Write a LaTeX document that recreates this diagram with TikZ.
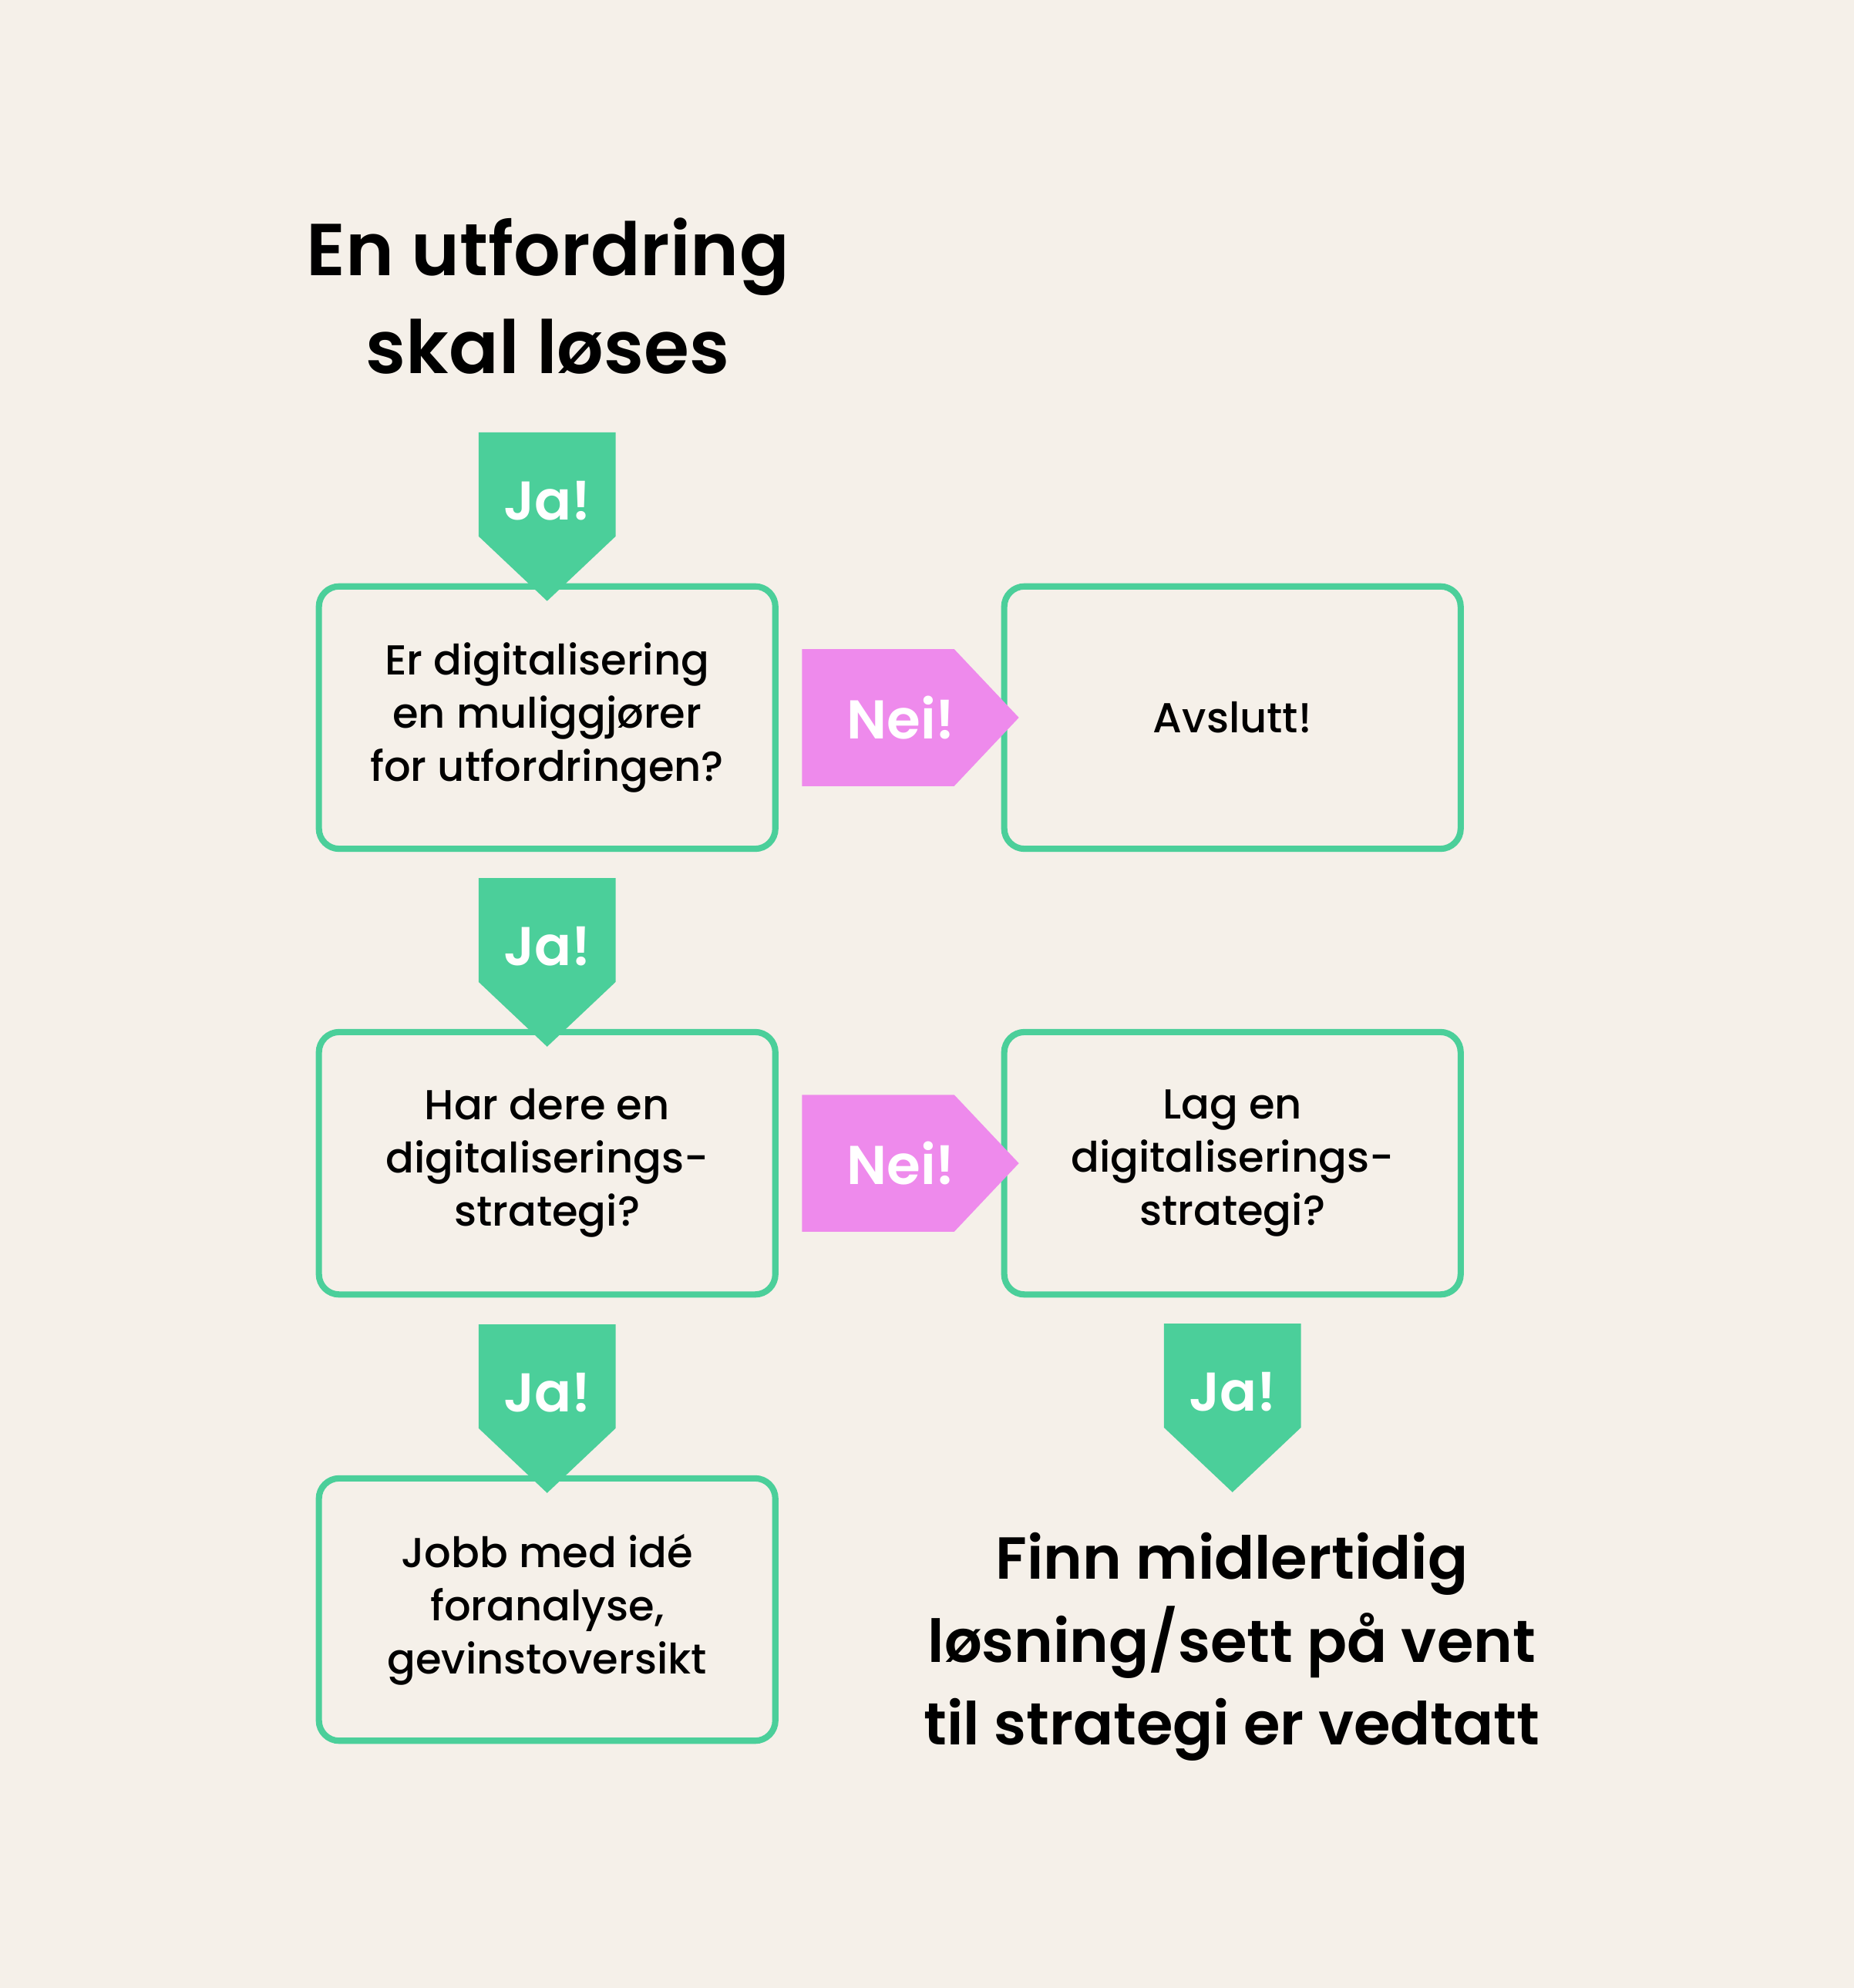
\documentclass[tikz,border=0pt]{standalone}
\usepackage{fontspec}
\setmainfont{Poppins}[UprightFont={* Medium},BoldFont={* SemiBold}]
\usepackage{tikz}
\usetikzlibrary{positioning,calc}
\definecolor{pbg}{HTML}{F5F0E9}
\definecolor{pgreen}{HTML}{4BCF9A}
\definecolor{ppink}{HTML}{EE8AEC}
\tikzset{
  % Outlined question box, no fill so the tags can sit on its border.
  qbox/.style   = {rectangle, rounded corners=0.32cm, draw=pgreen, line width=2.8pt,
                   minimum width=7.20cm, minimum height=4.14cm, align=center,
                   font=\fontsize{18.8}{23.9}\selectfont},
  head/.style   = {align=center, font=\bfseries\fontsize{33}{43.7}\selectfont},
  tail/.style   = {align=center, font=\bfseries\fontsize{26.6}{37.2}\selectfont},
  jafill/.style = {fill=pgreen},
  neifill/.style= {fill=ppink},
  tagtxt/.style = {text=white, inner sep=0pt, font=\bfseries\fontsize{24.5}{24.5}\selectfont},
}

\begin{document}
\begin{tikzpicture}
% --- canvas -----------------------------------------------------------
\fill[pbg] (0,0) rectangle (29.24,-31.36);

% --- title ------------------------------------------------------------
\node[head] (start) at (8.64,-4.67) {En utfordring\\skal løses};

% --- boxes, fixed positions -------------------------------------------
\node[qbox] (q1) at (8.63,-11.32)  {Er digitalisering\\en muliggjører\\for utfordringen?};
\node[qbox] (q2) at (19.44,-11.32) {Avslutt!};
\node[qbox] (q3) at (8.63,-18.35)  {Har dere en\\digitaliserings-\\strategi?};
\node[qbox] (q4) at (19.44,-18.35) {Lag en\\digitaliserings-\\strategi?};
\node[qbox] (q5) at (8.63,-25.39)  {Jobb med idé\\foranalyse,\\gevinstoversikt};

% --- closing text -----------------------------------------------------
\node[tail] (end) at (19.43,-25.98) {Finn midlertidig\\løsning/sett på vent\\til strategi er vedtatt};

% --- ja tags (pointing down) ------------------------------------------
\coordinate (j1) at ($(q1.north)+(0,-0.28)$);
\coordinate (j2) at ($(q3.north)+(0,-0.28)$);
\coordinate (j3) at ($(q5.north)+(0,-0.28)$);
\coordinate (j4) at ($(q4.south)+(0,-3.07)$);
\foreach \j in {j1,j2,j3,j4} {
  \fill[jafill] (\j) -- ++(-1.08,1.02) -- ++(0,1.64) -- ++(2.16,0) -- ++(0,-1.64) -- cycle;
  \node[tagtxt] (\j-lbl) at ($(\j)+(0,1.58)$) {Ja!};
}

% --- nei tags (pointing right) ----------------------------------------
\coordinate (n1) at ($(q2.west)+(0.28,0)$);
\coordinate (n2) at ($(q4.west)+(0.28,0)$);
\foreach \n in {n1,n2} {
  \fill[neifill] (\n) -- ++(-1.02,1.08) -- ++(-2.40,0) -- ++(0,-2.16) -- ++(2.40,0) -- cycle;
  \node[tagtxt] (\n-lbl) at ($(\n)+(-1.86,0)$) {Nei!};
}
\end{tikzpicture}
\end{document}
